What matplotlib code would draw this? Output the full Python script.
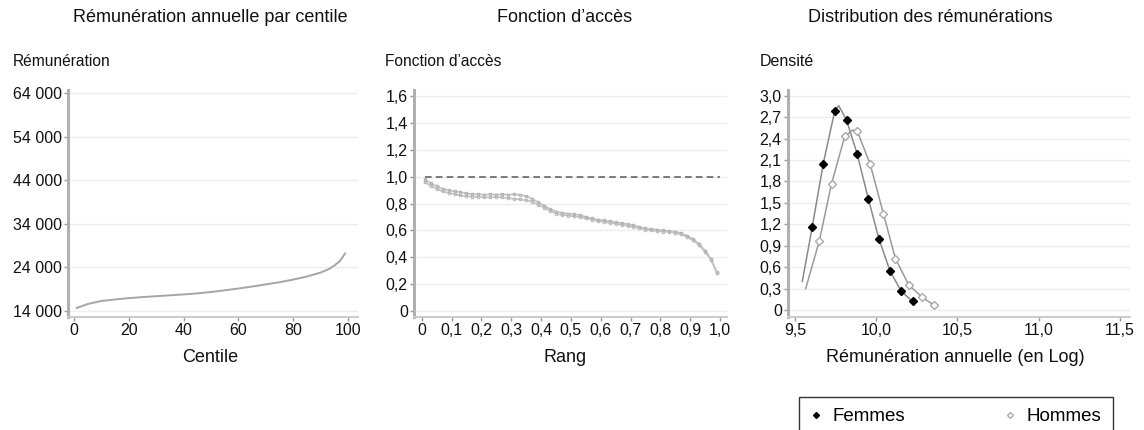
import matplotlib
matplotlib.use("Agg")
import matplotlib.pyplot as plt
from matplotlib.lines import Line2D

plt.rcParams['font.family'] = ['Liberation Sans', 'DejaVu Sans']

# rémunération par centile
centiles = [1, 5, 10, 15, 20, 25, 30, 35, 40, 45, 50, 55, 60, 65, 70, 75, 80, 85, 90, 93, 95, 97, 99]
remun = [14700, 15600, 16300, 16650, 16950, 17200, 17400, 17600, 17800, 18050, 18350, 18750,
         19150, 19600, 20100, 20600, 21200, 21900, 22800, 23600, 24400, 25400, 27200]
remun_ticks = [14000, 24000, 34000, 44000, 54000, 64000]
remun_labels = ["14 000", "24 000", "34 000", "44 000", "54 000", "64 000"]
centile_ticks = [0, 20, 40, 60, 80, 100]

# fonction d'accès (deux estimations)
rang = [0.01, 0.03, 0.05, 0.07, 0.09, 0.11, 0.13, 0.15, 0.17, 0.19, 0.21, 0.23, 0.25, 0.27, 0.29,
        0.31, 0.33, 0.35, 0.37, 0.39, 0.41, 0.43, 0.45, 0.47, 0.49, 0.51, 0.53, 0.55, 0.57, 0.59,
        0.61, 0.63, 0.65, 0.67, 0.69, 0.71, 0.73, 0.75, 0.77, 0.79, 0.81, 0.83, 0.85, 0.87, 0.89,
        0.91, 0.93, 0.95, 0.97, 0.99]
acces_a = [0.98, 0.95, 0.93, 0.91, 0.90, 0.89, 0.885, 0.875, 0.87, 0.87, 0.865, 0.87, 0.865, 0.87, 0.865,
           0.87, 0.865, 0.855, 0.835, 0.81, 0.785, 0.76, 0.74, 0.73, 0.725, 0.72, 0.715, 0.70, 0.69, 0.68,
           0.675, 0.67, 0.66, 0.655, 0.645, 0.64, 0.625, 0.615, 0.61, 0.605, 0.60, 0.595, 0.59, 0.58, 0.56,
           0.535, 0.50, 0.45, 0.39, 0.29]
acces_b = [0.96, 0.93, 0.91, 0.89, 0.88, 0.87, 0.86, 0.855, 0.85, 0.85, 0.845, 0.845, 0.85, 0.845, 0.84,
           0.835, 0.83, 0.825, 0.815, 0.79, 0.77, 0.745, 0.725, 0.715, 0.71, 0.705, 0.70, 0.69, 0.68, 0.67,
           0.665, 0.655, 0.65, 0.64, 0.635, 0.625, 0.615, 0.605, 0.60, 0.595, 0.59, 0.59, 0.58, 0.57, 0.55,
           0.525, 0.49, 0.44, 0.38, 0.28]
egalite_x = [0.01, 1.0]
egalite_y = [1.0, 1.0]
acces_ticks = [0, 0.2, 0.4, 0.6, 0.8, 1.0, 1.2, 1.4, 1.6]
acces_labels = ["0", "0,2", "0,4", "0,6", "0,8", "1,0", "1,2", "1,4", "1,6"]
rang_ticks = [0, 0.1, 0.2, 0.3, 0.4, 0.5, 0.6, 0.7, 0.8, 0.9, 1.0]
rang_labels = ["0", "0,1", "0,2", "0,3", "0,4", "0,5", "0,6", "0,7", "0,8", "0,9", "1,0"]

# densités du log de la rémunération
fem_x = [9.545, 9.606, 9.674, 9.745, 9.769, 9.817, 9.882, 9.951, 10.016, 10.086, 10.155, 10.224]
fem_y = [0.40, 1.16, 2.05, 2.79, 2.86, 2.66, 2.19, 1.56, 1.00, 0.54, 0.26, 0.12]
fem_marks = [1, 2, 3, 5, 6, 7, 8, 9, 10, 11]
hom_x = [9.566, 9.649, 9.725, 9.806, 9.855, 9.884, 9.963, 10.044, 10.118, 10.200, 10.282, 10.353]
hom_y = [0.30, 0.96, 1.77, 2.43, 2.52, 2.50, 2.04, 1.35, 0.72, 0.35, 0.18, 0.07]
hom_marks = [1, 2, 3, 5, 6, 7, 8, 9, 10, 11]
dens_ticks = [0, 0.3, 0.6, 0.9, 1.2, 1.5, 1.8, 2.1, 2.4, 2.7, 3.0]
dens_labels = ["0", "0,3", "0,6", "0,9", "1,2", "1,5", "1,8", "2,1", "2,4", "2,7", "3,0"]
log_ticks = [9.5, 10.0, 10.5, 11.0, 11.5]
log_labels = ["9,5", "10,0", "10,5", "11,0", "11,5"]

W, H = 1144, 430
fig = plt.figure(figsize=(W / 100, H / 100), dpi=100)


def box(l, r, t, b):
    return [l / W, 1 - b / H, (r - l) / W, (b - t) / H]


def ftext(x, y, s, size=13, ha="center"):
    fig.text(x / W, 1 - y / H, s, fontsize=size, ha=ha, va="center", color="#111")


def style(ax):
    for s in ("top", "right"):
        ax.spines[s].set_visible(False)
    ax.spines["left"].set_color("#b0b0b0")
    ax.spines["left"].set_linewidth(2.2)
    ax.spines["bottom"].set_color("#cccccc")
    ax.spines["bottom"].set_linewidth(1.5)
    ax.tick_params(colors="#999999", labelcolor="#111111", labelsize=11.5, length=3, width=1, pad=1.5)
    ax.tick_params(axis="x", pad=1)
    ax.grid(axis="y", color="#eeeeee", linewidth=1)
    ax.set_axisbelow(True)


ax1 = fig.add_axes(box(68, 358, 90, 317))
ax2 = fig.add_axes(box(414, 727, 90, 317))
ax3 = fig.add_axes(box(788, 1130, 90, 317))
for ax in (ax1, ax2, ax3):
    style(ax)

ax1.plot(centiles, remun, color="#a5a5a5", lw=1.4)
ax1.set_xlim(-2.2, 103.7)
ax1.set_ylim(12624, 64690)
ax1.set_yticks(remun_ticks, remun_labels)
ax1.set_xticks(centile_ticks)

ax2.plot(egalite_x, egalite_y, color="#666666", lw=1.2, dashes=(4, 2.5))
ax2.plot(rang, acces_a, color="#c4c4c4", lw=1.2, marker="o", ms=2, mfc="none", mec="#a8a8a8", mew=0.6)
ax2.plot(rang, acces_b, color="#c4c4c4", lw=1.2, marker="o", ms=2, mfc="none", mec="#b0b0b0", mew=0.6)
ax2.set_xlim(-0.0258, 1.0235)
ax2.set_ylim(-0.0446, 1.645)
ax2.set_yticks(acces_ticks, acces_labels)
ax2.set_xticks(rang_ticks, rang_labels)

ax3.plot(fem_x, fem_y, color="#8a8a8a", lw=1.1, marker="D", ms=3.6, mfc="black", mec="black",
         markevery=fem_marks)
ax3.plot(hom_x, hom_y, color="#9a9a9a", lw=1.1, marker="D", ms=3.6, mfc="white", mec="#aaaaaa",
         mew=1, markevery=hom_marks)
ax3.set_xlim(9.457, 11.5615)
ax3.set_ylim(-0.098, 3.08)
ax3.set_yticks(dens_ticks, dens_labels)
ax3.set_xticks(log_ticks, log_labels)

# titres et libellés
ftext(210, 18, "Rémunération annuelle par centile")
ftext(565, 18, "Fonction d’accès")
ftext(930, 18, "Distribution des rémunérations")
ftext(13, 62, "Rémunération", size=11.2, ha="left")
ftext(385, 62, "Fonction d’accès", size=11.2, ha="left")
ftext(760, 62, "Densité", size=11.5, ha="left")
ftext(210, 357, "Centile")
ftext(565, 357, "Rang")
ftext(955, 357, "Rémunération annuelle (en Log)")

handles = [
    Line2D([], [], ls="none", marker="D", ms=3, mfc="black", mec="black"),
    Line2D([], [], ls="none", marker="D", ms=3, mfc="white", mec="#aaaaaa"),
]
fig.legend(handles, ["Femmes", "Hommes"], loc="upper left", bbox_to_anchor=box(799, 1113, 397, 440),
           mode="expand", ncol=2, frameon=True, fancybox=False, edgecolor="black", fontsize=13.5,
           borderaxespad=0, handlelength=0.6, handletextpad=0.6, borderpad=0.6)
fig.legends[0].get_frame().set_linewidth(1)

fig.savefig("out.png", dpi=100)
